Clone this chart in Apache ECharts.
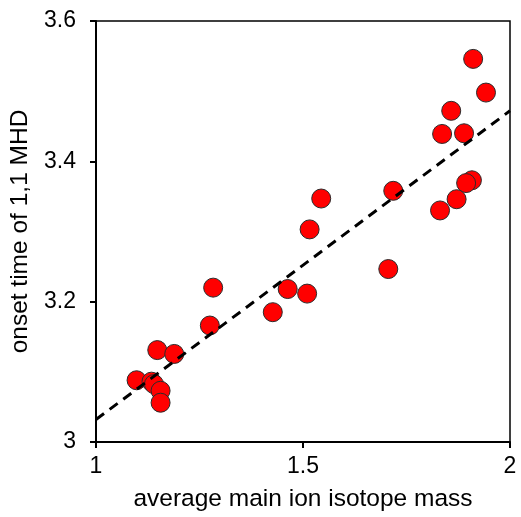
<!DOCTYPE html>
<html><head><meta charset="utf-8">
<script src="https://cdn.jsdelivr.net/npm/echarts@6/dist/echarts.min.js"></script>
<style>html,body{margin:0;padding:0;background:#fff}#c{width:521px;height:517px}</style>
</head><body><div id="c"></div>
<script>
const massX = [1.098,1.134,1.140,1.156,1.156,1.148,1.189,1.275,1.283,1.427,1.463,1.510,1.516,1.544,1.706,1.718,1.911,1.942,1.858,1.836,1.889,1.908,1.894,1.871,1.831];
const onsetY = [3.088,3.086,3.0825,3.073,3.056,3.131,3.1255,3.166,3.220,3.185,3.218,3.2115,3.303,3.347,3.2465,3.358,3.546,3.498,3.472,3.439,3.440,3.373,3.369,3.346,3.330];
const fitX = [1, 2];
const fitY = [3.032, 3.472];
const xTicks = [1, 1.5, 2];
const yTicks = [3, 3.2, 3.4, 3.6];
const xTitle = 'average main ion isotope mass';
const yTitle = 'onset time of 1,1 MHD';

const chart = echarts.init(document.getElementById('c'), null, {renderer:'canvas'});
const font = '"Liberation Sans", Arial, sans-serif';
chart.setOption({
  animation:false,
  backgroundColor:'#fff',
  grid:{left:96,right:11,top:21,bottom:72,show:true,borderColor:'#000',borderWidth:1.5,backgroundColor:'transparent'},
  xAxis:{type:'value',min:xTicks[0],max:xTicks[xTicks.length-1],interval:0.5,
    name:xTitle,nameLocation:'middle',nameGap:45,
    nameTextStyle:{fontFamily:font,fontSize:24.5,color:'#000'},
    axisLine:{onZero:false,lineStyle:{color:'#000',width:2}},
    axisTick:{show:true,length:6,lineStyle:{color:'#000',width:2}},
    axisLabel:{fontFamily:font,fontSize:23,color:'#000',margin:13,formatter:v=>String(v)},
    splitLine:{show:false}},
  yAxis:{type:'value',min:yTicks[0],max:yTicks[yTicks.length-1],interval:0.2,
    name:yTitle,nameLocation:'middle',nameGap:58,
    nameTextStyle:{fontFamily:font,fontSize:24.5,color:'#000'},
    axisLine:{onZero:false,lineStyle:{color:'#000',width:2}},
    axisTick:{show:true,length:6,lineStyle:{color:'#000',width:2}},
    axisLabel:{fontFamily:font,fontSize:23,color:'#000',margin:20,formatter:v=>String(Math.round(v*10)/10)},
    splitLine:{show:false}},
  series:[
    {type:'scatter',data:massX.map((x,i)=>[x,onsetY[i]]),symbol:'circle',symbolSize:19,z:2,
     itemStyle:{color:'#ff0000',borderColor:'#2b2b2b',borderWidth:1,opacity:1}},
    {type:'line',data:fitX.map((x,i)=>[x,fitY[i]]),symbol:'none',z:3,silent:true,
     lineStyle:{color:'#000',width:3,type:[10,7]}}
  ]
});
</script></body></html>
